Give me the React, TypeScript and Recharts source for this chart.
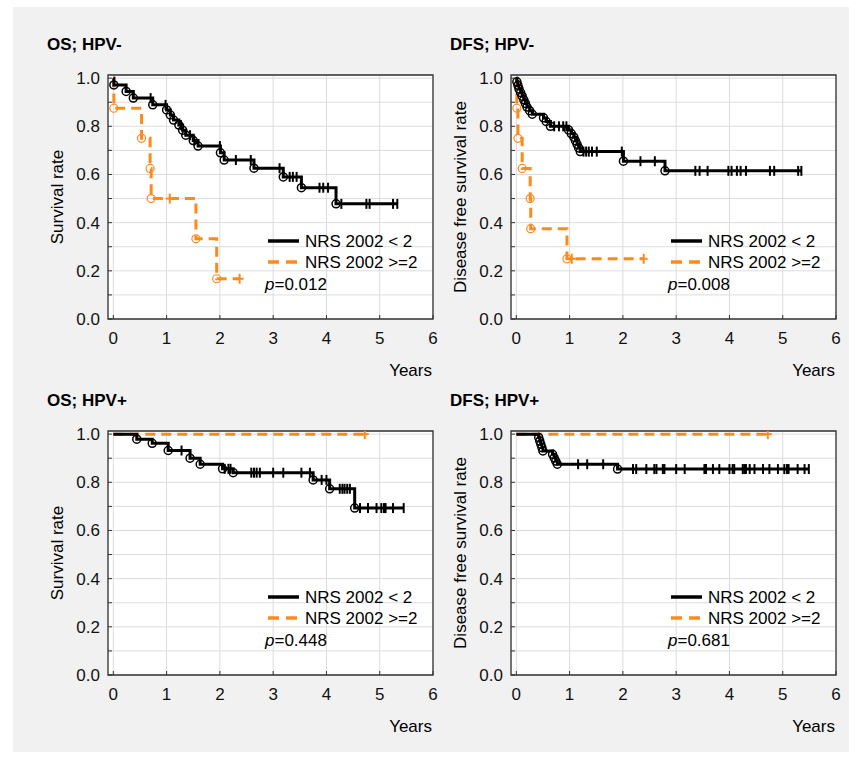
import { LineChart, Line, XAxis, YAxis, CartesianGrid, ReferenceArea } from 'recharts';

// Kaplan-Meier readings: event times, survival after each event, censor times
const osNegLowT = [0.01, 0.24, 0.375, 0.74, 1.0, 1.07, 1.13, 1.23, 1.3, 1.36, 1.5, 1.59, 2.01, 2.08, 2.64, 3.19, 3.53, 4.18];
const osNegLowS = [0.972, 0.945, 0.917, 0.889, 0.868, 0.847, 0.826, 0.805, 0.784, 0.763, 0.741, 0.718, 0.69, 0.66, 0.626, 0.59, 0.545, 0.478];
const osNegLowC = [0.7, 0.98, 1.27, 1.44, 1.52, 2.0, 2.3, 2.58, 3.12, 3.31, 3.37, 3.44, 3.87, 3.94, 4.03, 4.28, 4.75, 4.81, 5.25, 5.33];
const osNegHighT = [0.01, 0.53, 0.69, 0.71, 1.55, 1.94];
const osNegHighS = [0.875, 0.75, 0.625, 0.5, 0.333, 0.167];
const osNegHighC = [1.06, 2.37];

const dfsNegLowT = [0.01, 0.03, 0.05, 0.08, 0.11, 0.14, 0.17, 0.2, 0.25, 0.3, 0.51, 0.56, 0.64, 0.98, 1.03, 1.08, 1.11, 1.14, 1.17, 1.2, 2.01, 2.79];
const dfsNegLowS = [0.985, 0.97, 0.955, 0.94, 0.925, 0.91, 0.895, 0.88, 0.865, 0.85, 0.835, 0.82, 0.8, 0.785, 0.77, 0.755, 0.74, 0.725, 0.71, 0.695, 0.655, 0.615];
const dfsNegLowC = [0.71, 0.8, 0.88, 0.94, 1.26, 1.31, 1.36, 1.42, 1.51, 1.98, 2.33, 2.6, 3.36, 3.44, 3.59, 3.98, 4.04, 4.14, 4.21, 4.31, 4.76, 4.84, 5.29, 5.35];
const dfsNegHighT = [0.01, 0.03, 0.11, 0.26, 0.27, 0.95];
const dfsNegHighS = [0.875, 0.75, 0.625, 0.5, 0.375, 0.25];
const dfsNegHighC = [1.04, 2.39];

const osPosLowT = [0.44, 0.73, 1.03, 1.44, 1.63, 2.05, 2.25, 3.75, 4.06, 4.53];
const osPosLowS = [0.979, 0.962, 0.932, 0.9, 0.875, 0.856, 0.84, 0.81, 0.773, 0.693];
const osPosLowC = [1.28, 2.09, 2.16, 2.2, 2.59, 2.64, 2.69, 2.75, 3.0, 3.19, 3.53, 3.69, 3.91, 4.0, 4.25, 4.3, 4.34, 4.39, 4.44, 4.63, 4.78, 4.94, 5.03, 5.08, 5.11, 5.25, 5.45];
const osPosHighT: number[] = [];
const osPosHighS: number[] = [];
const osPosHighC = [4.72];

const dfsPosLowT = [0.42, 0.44, 0.46, 0.48, 0.5, 0.68, 0.71, 0.74, 0.77, 1.9];
const dfsPosLowS = [0.986, 0.972, 0.958, 0.944, 0.93, 0.916, 0.902, 0.888, 0.875, 0.855];
const dfsPosLowC = [1.16, 1.33, 1.63, 2.19, 2.25, 2.44, 2.59, 2.63, 2.75, 2.78, 3.0, 3.16, 3.53, 3.56, 3.69, 3.81, 4.0, 4.06, 4.09, 4.25, 4.28, 4.31, 4.38, 4.47, 4.63, 4.75, 4.91, 5.03, 5.08, 5.11, 5.28, 5.41, 5.49];
const dfsPosHighT: number[] = [];
const dfsPosHighS: number[] = [];
const dfsPosHighC = [4.72];

const xTicks = [0, 1, 2, 3, 4, 5, 6];
const yTicks = [0, 0.1, 0.2, 0.3, 0.4, 0.5, 0.6, 0.7, 0.8, 0.9, 1.0];
const groupLabels = ['NRS 2002 < 2', 'NRS 2002 >=2'];

const ORANGE = '#FF8A1C';
const FONT = '"Liberation Sans", Arial, sans-serif';

type Row = { t: number; s: number; k: string };

function kmRows(evT: number[], evS: number[], cenT: number[]): Row[] {
  const rows: Row[] = [{ t: 0, s: 1, k: 's' }];
  evT.forEach((t, i) => rows.push({ t, s: evS[i], k: 'e' }));
  cenT.forEach((t) => rows.push({ t, s: 1, k: 'c' }));
  rows.sort((a, b) => a.t - b.t || (a.k === 's' ? -1 : 0));
  let cur = 1;
  rows.forEach((r) => {
    if (r.k === 'c') r.s = cur;
    else cur = r.s;
  });
  return rows;
}

const panels = [
  { title: 'OS; HPV-', ytitle: 'Survival rate', p: '0.012', left: 108, top: 75,
    low: kmRows(osNegLowT, osNegLowS, osNegLowC), high: kmRows(osNegHighT, osNegHighS, osNegHighC) },
  { title: 'DFS; HPV-', ytitle: 'Disease free survival rate', p: '0.008', left: 511, top: 75,
    low: kmRows(dfsNegLowT, dfsNegLowS, dfsNegLowC), high: kmRows(dfsNegHighT, dfsNegHighS, dfsNegHighC) },
  { title: 'OS; HPV+', ytitle: 'Survival rate', p: '0.448', left: 108, top: 431,
    low: kmRows(osPosLowT, osPosLowS, osPosLowC), high: kmRows(osPosHighT, osPosHighS, osPosHighC) },
  { title: 'DFS; HPV+', ytitle: 'Disease free survival rate', p: '0.681', left: 511, top: 431,
    low: kmRows(dfsPosLowT, dfsPosLowS, dfsPosLowC), high: kmRows(dfsPosHighT, dfsPosHighS, dfsPosHighC) },
];

const PW = 325;
const PH = 244;

const makeDot = (color: string, orange: boolean) => (props: any) => {
  const { cx, cy, payload, index } = props;
  if (payload.k === 'e') {
    return <circle key={index} cx={cx} cy={cy} r={4} fill="none" stroke={color} strokeWidth={orange ? 1.2 : 1.5} />;
  }
  if (payload.k === 'c') {
    return (
      <g key={index}>
        <line x1={cx} x2={cx} y1={cy - 5} y2={cy + 5} stroke={color} strokeWidth={2} />
        {orange && <line x1={cx - 4} x2={cx + 4} y1={cy} y2={cy} stroke={color} strokeWidth={2} />}
      </g>
    );
  }
  return <g key={index} />;
};

const YTick = (props: any) => {
  const { x, y, payload, index } = props;
  const v = payload.value;
  return (
    <g key={index}>
      <line x1={x} x2={x + 4} y1={y} y2={y} stroke="#333" />
      {Math.round(v * 10) % 2 === 0 && (
        <text x={x - 8} y={y + 6} textAnchor="end" fontSize={17} fontFamily={FONT} fill="#111">
          {v.toFixed(1)}
        </text>
      )}
    </g>
  );
};

const XTick = (props: any) => {
  const { x, y, payload, index } = props;
  return (
    <g key={index}>
      <line x1={x} x2={x} y1={y} y2={y - 4} stroke="#333" />
      <text x={x} y={y + 25} textAnchor="middle" fontSize={17} fontFamily={FONT} fill="#111">
        {payload.value}
      </text>
    </g>
  );
};

const Panel = ({ panel }: { panel: (typeof panels)[number] }) => (
  <div style={{ position: 'absolute', left: panel.left - 70, top: panel.top - 10 }}>
    <LineChart width={PW + 80} height={PH + 70} margin={{ top: 10, right: 10, bottom: 0, left: 0 }}>
      <CartesianGrid stroke="#dcdcdc" fill="#fff" />
      <XAxis
        type="number"
        dataKey="t"
        domain={[-0.1, 6]}
        ticks={xTicks}
        interval={0}
        allowDataOverflow
        height={60}
        axisLine={false}
        tickLine={false}
        tickSize={0}
        tickMargin={0}
        tick={XTick}
      />
      <YAxis
        type="number"
        dataKey="s"
        domain={[0, 1.013]}
        ticks={yTicks}
        interval={0}
        allowDataOverflow
        width={70}
        axisLine={false}
        tickLine={false}
        tickSize={0}
        tickMargin={0}
        tick={YTick}
      />
      <ReferenceArea x1={-0.1} x2={6} y1={0} y2={1.013} fill="none" stroke="#333" strokeWidth={1.3} />
      <Line
        data={panel.high}
        dataKey="s"
        type="stepAfter"
        stroke={ORANGE}
        strokeWidth={3}
        strokeDasharray="10 6"
        dot={makeDot(ORANGE, true)}
        isAnimationActive={false}
      />
      <Line
        data={panel.low}
        dataKey="s"
        type="stepAfter"
        stroke="#000"
        strokeWidth={3}
        dot={makeDot('#000', false)}
        isAnimationActive={false}
      />
    </LineChart>
  </div>
);

export default function App() {
  return (
    <div style={{ position: 'absolute', left: 0, top: 0, width: 862, height: 760, background: '#fff', fontFamily: FONT }}>
      <div style={{ position: 'absolute', left: 13, top: 7, width: 836, height: 745, background: '#f1f1f1' }} />
      {panels.map((p) => (
        <Panel key={p.title} panel={p} />
      ))}
      <svg width={862} height={760} style={{ position: 'absolute', left: 0, top: 0, pointerEvents: 'none' }}>
        {panels.map((p) => {
          const titleX = p.left < 300 ? 47 : 450;
          const sx = p.left + 160;
          const r1 = p.top + 166;
          const r2 = p.top + 187;
          const r3 = p.top + 209;
          return (
            <g key={p.title} fontFamily={FONT} fontSize={17} fill="#000">
              <text x={titleX} y={p.top - 25} fontWeight="bold">{p.title}</text>
              <text
                x={p.left - 45}
                y={p.top + PH / 2}
                textAnchor="middle"
                transform={`rotate(-90 ${p.left - 45} ${p.top + PH / 2})`}
              >
                {p.ytitle}
              </text>
              <text x={p.left + PW - 1} y={p.top + PH + 57} textAnchor="end">Years</text>
              <line x1={sx} x2={sx + 31} y1={r1} y2={r1} stroke="#000" strokeWidth={3.5} />
              <text x={sx + 37} y={r1 + 6}>{groupLabels[0]}</text>
              <line x1={sx} x2={sx + 31} y1={r2} y2={r2} stroke={ORANGE} strokeWidth={3.5} strokeDasharray="11 7" />
              <text x={sx + 37} y={r2 + 6}>{groupLabels[1]}</text>
              <text x={sx - 3} y={r3 + 6}>
                <tspan fontStyle="italic">p</tspan>={p.p}
              </text>
            </g>
          );
        })}
      </svg>
    </div>
  );
}
